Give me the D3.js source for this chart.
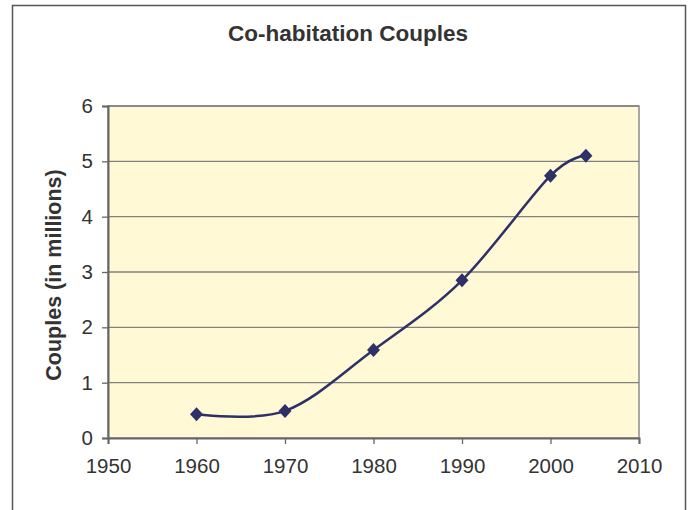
<!DOCTYPE html>
<html>
<head>
<meta charset="utf-8">
<script src="https://cdn.jsdelivr.net/npm/d3@7"></script>
<style>
  body { margin: 0; background: #fff; }
  text { font-family: "Liberation Sans", Arial, sans-serif; fill: #333; }
</style>
</head>
<body>
<svg></svg>
<script>
var width = 691;
var height = 510;

// data
var years = [1960, 1970, 1980, 1990, 2000, 2004];
var couples = [0.43, 0.49, 1.59, 2.85, 4.74, 5.10];
var xTicks = [1950, 1960, 1970, 1980, 1990, 2000, 2010];
var yTicks = [0, 1, 2, 3, 4, 5, 6];

var margin = { top: 106, right: 52, bottom: 72, left: 108 };
var w = width - margin.left - margin.right;
var h = height - margin.top - margin.bottom;

var svg = d3.select('svg')
    .attr('width', width)
    .attr('height', height);

// outer chart frame
svg.append('rect')
    .attr('x', 12.5).attr('y', 5.5)
    .attr('width', 673).attr('height', 520)
    .attr('fill', 'none')
    .attr('stroke', '#555')
    .attr('stroke-width', 1.5);

svg.append('text')
    .attr('x', 348).attr('y', 41)
    .attr('text-anchor', 'middle')
    .attr('font-size', 22.5)
    .attr('font-weight', 'bold')
    .text('Co-habitation Couples');

var g = svg.append('g')
    .attr('transform', 'translate(' + margin.left + ',' + margin.top + ')');

var x = d3.scaleLinear().domain([1950, 2010]).range([0, w]);
var y = d3.scaleLinear().domain([0, 6]).range([h, 0]);

g.append('rect')
    .attr('width', w).attr('height', h)
    .attr('fill', '#fff9d6')
    .attr('stroke', '#8c8c8c')
    .attr('stroke-width', 1.5);

g.selectAll('.grid')
    .data(yTicks.slice(1))
    .enter()
    .append('line')
    .attr('class', 'grid')
    .attr('x1', 0).attr('x2', w)
    .attr('y1', function (d) { return y(d); })
    .attr('y2', function (d) { return y(d); })
    .attr('stroke', '#808080')
    .attr('stroke-width', 1.3);

var xAxis = g.append('g')
    .attr('transform', 'translate(0,' + h + ')')
    .call(d3.axisBottom(x).tickValues(xTicks).tickFormat(d3.format('d')).tickSize(6).tickPadding(14));

var yAxis = g.append('g')
    .call(d3.axisLeft(y).tickValues(yTicks).tickFormat(d3.format('d')).tickSize(6).tickPadding(9));

[xAxis, yAxis].forEach(function (a) {
    a.select('.domain').attr('stroke', '#666').attr('stroke-width', 2);
    a.selectAll('.tick line').attr('stroke', '#666').attr('stroke-width', 1.3);
    a.selectAll('text')
        .attr('font-size', 20.5)
        .attr('font-family', '"Liberation Sans", Arial, sans-serif')
        .attr('fill', '#333');
});

svg.append('text')
    .attr('transform', 'translate(61,275) rotate(-90)')
    .attr('text-anchor', 'middle')
    .attr('font-size', 21.5)
    .attr('font-weight', 'bold')
    .text('Couples (in millions)');

var pts = years.map(function (d, i) { return [d, couples[i]]; });

var line = d3.line()
    .x(function (d) { return x(d[0]); })
    .y(function (d) { return y(d[1]); })
    .curve(d3.curveCatmullRom.alpha(0));

g.append('path')
    .datum(pts)
    .attr('d', line)
    .attr('fill', 'none')
    .attr('stroke', '#2e3068')
    .attr('stroke-width', 2.5);

g.selectAll('.mark')
    .data(pts)
    .enter()
    .append('path')
    .attr('class', 'mark')
    .attr('d', 'M0,-7L6.5,0L0,7L-6.5,0Z')
    .attr('transform', function (d) { return 'translate(' + x(d[0]) + ',' + y(d[1]) + ')'; })
    .attr('fill', '#2e3068');
</script>
</body>
</html>
